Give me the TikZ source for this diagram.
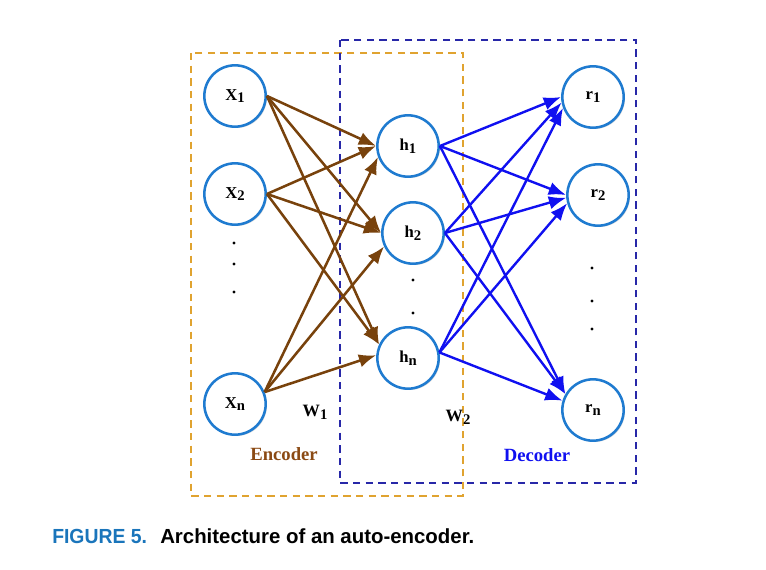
\documentclass[tikz,border=0pt]{standalone}
\usepackage{fontspec}
\setmainfont{Liberation Serif}
\newfontfamily\capfont{Liberation Sans Bold}
\usetikzlibrary{arrows.meta,shadows}
\definecolor{nodeblue}{RGB}{31,123,208}
\definecolor{encbrown}{RGB}{120,66,12}
\definecolor{encText}{RGB}{139,74,20}
\definecolor{decblue}{RGB}{16,16,240}
\definecolor{boxorange}{RGB}{224,163,48}
\definecolor{boxblue}{RGB}{40,40,168}
\definecolor{capblue}{RGB}{26,117,187}
\tikzset{
  neuron/.style={circle, draw=nodeblue, line width=1.9pt, fill=white, minimum size=46pt, inner sep=0pt,
    font=\fontsize{12.5}{14}\selectfont\bfseries,
    drop shadow={opacity=0.3, shadow xshift=1pt, shadow yshift=-1pt}},
  encarrow/.style={draw=encbrown, line width=1.9pt, -{Latex[length=13pt,width=10pt]}},
  decarrow/.style={draw=decblue, line width=1.8pt, -{Latex[length=13pt,width=10pt]}},
  encbox/.style={draw=boxorange, line width=2pt, dash pattern=on 5.5pt off 4pt},
  decbox/.style={draw=boxblue, line width=2pt, dash pattern=on 5.5pt off 4pt},
  dotmark/.style={circle, fill=black, inner sep=0pt, minimum size=2.4pt},
  wlabel/.style={font=\fontsize{13}{15}\selectfont\bfseries},
  sublabel/.style={font=\fontsize{14}{16}\selectfont\bfseries},
  captext/.style={anchor=west, inner sep=0pt, font=\capfont\fontsize{15.3}{17}\selectfont}
}
\newcommand{\sbs}[1]{\raisebox{-0.35ex}{\fontsize{11}{12}\selectfont #1}}
\begin{document}
\begin{tikzpicture}[x=0.75pt,y=-0.75pt]
\useasboundingbox (0,0) rectangle (766,570);
% boxes
\draw[encbox] (191,53) rectangle (463,496);
\draw[decbox] (340,40) rectangle (636,483);
% nodes
\node[neuron] (x1) at (235,96) {X\sbs{1}};
\node[neuron] (x2) at (235,194) {X\sbs{2}};
\node[neuron] (xn) at (235,404) {X\sbs{n}};
\node[neuron] (h1) at (408,146) {h\sbs{1}};
\node[neuron] (h2) at (413,233) {h\sbs{2}};
\node[neuron] (hn) at (408,358) {h\sbs{n}};
\node[neuron] (r1) at (593,97) {r\sbs{1}};
\node[neuron] (r2) at (598,195) {r\sbs{2}};
\node[neuron] (rn) at (593,410) {r\sbs{n}};
% dots
\node[dotmark] (dx1) at (234,243) {};
\node[dotmark] (dx2) at (234,264) {};
\node[dotmark] (dx3) at (234,292) {};
\node[dotmark] (dh1) at (413,280) {};
\node[dotmark] (dh2) at (413,313) {};
\node[dotmark] (dr1) at (592,268) {};
\node[dotmark] (dr2) at (592,301) {};
\node[dotmark] (dr3) at (592,329) {};
% encoder connections
\draw[encarrow] (x1.east) -- (h1.west);
\draw[encarrow] (x1.east) -- (h2.west);
\draw[encarrow] (x1.east) -- (hn.155);
\draw[encarrow] (x2.east) -- (h1.west);
\draw[encarrow] (x2.east) -- (h2.west);
\draw[encarrow] (x2.east) -- (hn.155);
\draw[encarrow] (xn.22) -- (h1.200);
\draw[encarrow] (xn.22) -- (h2.205);
\draw[encarrow] (xn.22) -- (hn.175);
% decoder connections
\draw[decarrow] (h1.east) -- (r1.west);
\draw[decarrow] (h1.east) -- (r2.west);
\draw[decarrow] (h1.east) -- (rn.150);
\draw[decarrow] (h2.east) -- (r1.190);
\draw[decarrow] (h2.east) -- (r2.185);
\draw[decarrow] (h2.east) -- (rn.150);
\draw[decarrow] (hn.10) -- (r1.200);
\draw[decarrow] (hn.10) -- (r2.195);
\draw[decarrow] (hn.10) -- (rn.163);
% labels
\node[wlabel] (w1) at (315,412) {W\sbs{1}};
\node[wlabel] (w2) at (458,417) {W\sbs{2}};
\node[sublabel, text=encText] (enc) at (284,454) {Encoder};
\node[sublabel, text=decblue] (dec) at (537,455) {Decoder};
% caption
\node[captext, text=capblue] (figno) at (52,536) {\scalebox{0.95}[1]{FIGURE 5.}};
\node[captext] (captxt) at (160,536) {Architecture of an auto-encoder.};
\end{tikzpicture}
\end{document}
